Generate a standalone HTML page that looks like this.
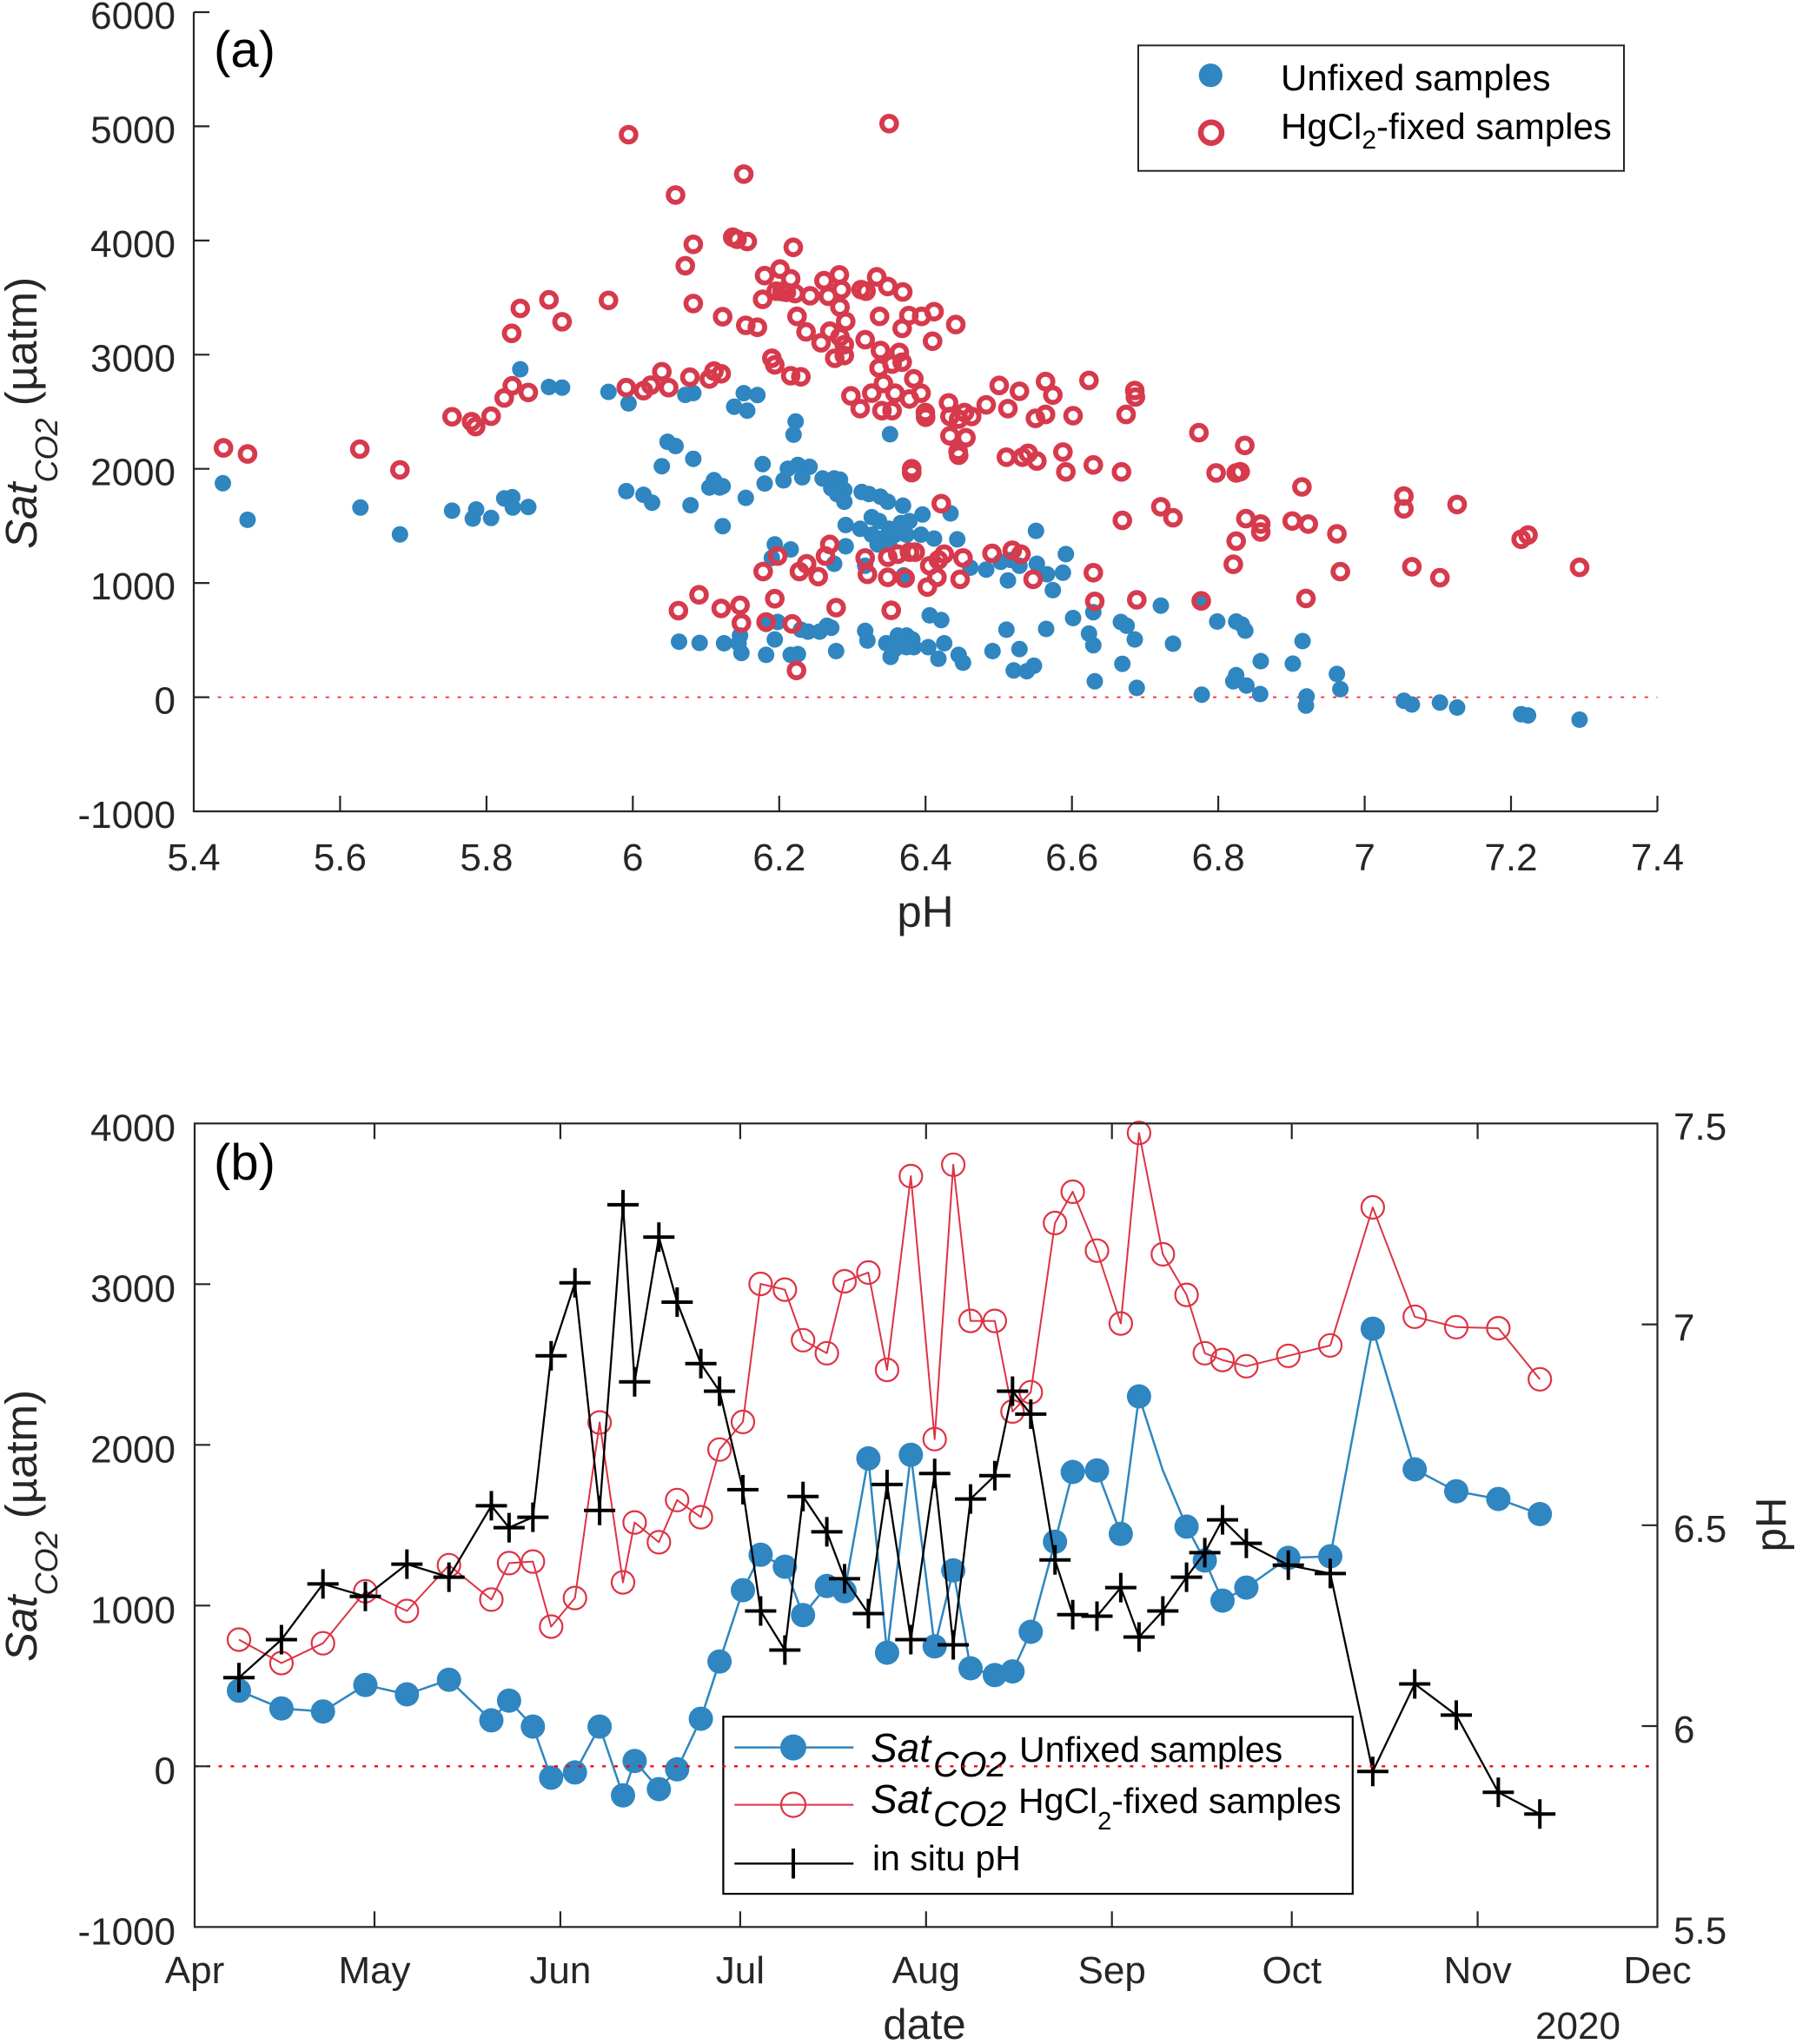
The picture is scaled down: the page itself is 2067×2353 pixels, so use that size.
<!DOCTYPE html>
<html>
<head>
<meta charset="utf-8">
<style>
html,body{margin:0;padding:0;background:#fff;}
svg{display:block;}
text{font-family:"Liberation Sans",Arial,sans-serif;}
</style>
</head>
<body>
<svg xmlns="http://www.w3.org/2000/svg" width="2067" height="2353" viewBox="0 0 2067 2353">
<rect x="0" y="0" width="2067" height="2353" fill="#fff"/>

<!-- ================= PANEL (a) ================= -->
<line x1="223" y1="802.6" x2="1907.5" y2="802.6" stroke="#ff2020" stroke-width="1.8" stroke-dasharray="4 9.8"/>

<g fill="#2f86c0">
<circle cx="256.5" cy="556.3" r="9.5"/><circle cx="284.9" cy="598.4" r="9.5"/><circle cx="414.8" cy="584.3" r="9.5"/>
<circle cx="460.3" cy="615.2" r="9.5"/><circle cx="520.3" cy="587.9" r="9.5"/><circle cx="544.1" cy="597" r="9.5"/>
<circle cx="548" cy="586.5" r="9.5"/><circle cx="565.2" cy="596.3" r="9.5"/><circle cx="580.3" cy="573.8" r="9.5"/>
<circle cx="589.6" cy="572.4" r="9.5"/><circle cx="590.2" cy="584.3" r="9.5"/><circle cx="598.8" cy="425.1" r="9.5"/>
<circle cx="608" cy="583.6" r="9.5"/><circle cx="631.8" cy="445.5" r="9.5"/><circle cx="646.9" cy="446.2" r="9.5"/>
<circle cx="700.3" cy="451.1" r="9.5"/><circle cx="723.4" cy="464.4" r="9.5"/><circle cx="720.8" cy="565.4" r="9.5"/>
<circle cx="740.6" cy="569.6" r="9.5"/><circle cx="750.5" cy="578.7" r="9.5"/><circle cx="761.7" cy="536.7" r="9.5"/>
<circle cx="768.3" cy="508.6" r="9.5"/><circle cx="777.5" cy="513.5" r="9.5"/><circle cx="788.7" cy="454.6" r="9.5"/>
<circle cx="797.9" cy="452.5" r="9.5"/><circle cx="797.9" cy="528.2" r="9.5"/><circle cx="794.7" cy="581.6" r="9.5"/>
<circle cx="781.5" cy="738.7" r="9.5"/><circle cx="805.2" cy="740.1" r="9.5"/><circle cx="816.4" cy="561.2" r="9.5"/>
<circle cx="821.7" cy="552.8" r="9.5"/><circle cx="828.3" cy="561.2" r="9.5"/>
<circle cx="856" cy="452.6" r="9.5"/><circle cx="871.7" cy="454.8" r="9.5"/><circle cx="845" cy="468.2" r="9.5"/>
<circle cx="860" cy="472.7" r="9.5"/><circle cx="915.7" cy="485.2" r="9.5"/><circle cx="913.3" cy="500.4" r="9.5"/>
<circle cx="1024.3" cy="499.9" r="9.5"/><circle cx="877.7" cy="534.3" r="9.5"/><circle cx="906.7" cy="539.6" r="9.5"/>
<circle cx="918.3" cy="535.2" r="9.5"/><circle cx="931.7" cy="537.4" r="9.5"/><circle cx="901.7" cy="553" r="9.5"/>
<circle cx="923.3" cy="549.5" r="9.5"/><circle cx="880" cy="556.6" r="9.5"/><circle cx="831.7" cy="559.7" r="9.5"/>
<circle cx="946.7" cy="550.8" r="9.5"/><circle cx="960" cy="550.8" r="9.5"/><circle cx="966.7" cy="552.1" r="9.5"/>
<circle cx="956.7" cy="562" r="9.5"/><circle cx="971.7" cy="564.2" r="9.5"/><circle cx="963.3" cy="568.7" r="9.5"/>
<circle cx="971.7" cy="577.6" r="9.5"/><circle cx="858.3" cy="573.1" r="9.5"/><circle cx="991.7" cy="566.4" r="9.5"/>
<circle cx="1000" cy="568.7" r="9.5"/><circle cx="1013.3" cy="571.8" r="9.5"/><circle cx="1021.7" cy="577.6" r="9.5"/>
<circle cx="1039.3" cy="582.1" r="9.5"/><circle cx="831.7" cy="605.7" r="9.5"/><circle cx="973.3" cy="604.4" r="9.5"/>
<circle cx="990" cy="608.8" r="9.5"/><circle cx="1003.3" cy="595.4" r="9.5"/><circle cx="1011.7" cy="599.9" r="9.5"/>
<circle cx="1003.3" cy="615.5" r="9.5"/><circle cx="1011.7" cy="620" r="9.5"/><circle cx="1023.3" cy="608.8" r="9.5"/>
<circle cx="1036.7" cy="602.1" r="9.5"/><circle cx="1046.7" cy="599.9" r="9.5"/><circle cx="1030" cy="615.5" r="9.5"/>
<circle cx="1043.3" cy="615.5" r="9.5"/><circle cx="1060" cy="615.5" r="9.5"/><circle cx="1010" cy="626.7" r="9.5"/>
<circle cx="1023.3" cy="626.7" r="9.5"/><circle cx="1061.7" cy="592.3" r="9.5"/><circle cx="1094" cy="591" r="9.5"/>
<circle cx="1075" cy="620" r="9.5"/><circle cx="1101.7" cy="620.9" r="9.5"/><circle cx="1192.3" cy="611.1" r="9.5"/>
<circle cx="891.7" cy="626.7" r="9.5"/><circle cx="910" cy="632.5" r="9.5"/><circle cx="888.3" cy="642.3" r="9.5"/>
<circle cx="973.3" cy="628.9" r="9.5"/><circle cx="960" cy="649" r="9.5"/><circle cx="995.7" cy="651.3" r="9.5"/>
<circle cx="1040" cy="662.4" r="9.5"/><circle cx="1116.7" cy="653.5" r="9.5"/><circle cx="1135" cy="655.7" r="9.5"/>
<circle cx="1151.7" cy="646.8" r="9.5"/><circle cx="1163.3" cy="644.6" r="9.5"/><circle cx="1160" cy="668.2" r="9.5"/>
<circle cx="1173.3" cy="651.3" r="9.5"/><circle cx="1193.3" cy="649" r="9.5"/><circle cx="1205" cy="661.1" r="9.5"/>
<circle cx="1211.7" cy="679.4" r="9.5"/><circle cx="1226.7" cy="637.9" r="9.5"/><circle cx="1223.3" cy="659.3" r="9.5"/>
<circle cx="1235" cy="711.5" r="9.5"/><circle cx="1070" cy="708.4" r="9.5"/><circle cx="1083.3" cy="713.8" r="9.5"/>
<circle cx="1158.3" cy="724.9" r="9.5"/><circle cx="1204" cy="724" r="9.5"/><circle cx="1258.3" cy="704.8" r="9.5"/>
<circle cx="1253.3" cy="729.4" r="9.5"/><circle cx="1258.3" cy="742.8" r="9.5"/><circle cx="1290" cy="716" r="9.5"/>
<circle cx="1296.7" cy="720.4" r="9.5"/><circle cx="1306" cy="736.1" r="9.5"/><circle cx="1336" cy="697.2" r="9.5"/>
<circle cx="1350" cy="741" r="9.5"/><circle cx="833.3" cy="740.5" r="9.5"/><circle cx="851.7" cy="731.6" r="9.5"/>
<circle cx="850" cy="740.5" r="9.5"/><circle cx="853.3" cy="751.7" r="9.5"/><circle cx="881.7" cy="718.2" r="9.5"/>
<circle cx="895" cy="716" r="9.5"/><circle cx="891.7" cy="736.1" r="9.5"/><circle cx="881.7" cy="753.9" r="9.5"/>
<circle cx="910" cy="753.9" r="9.5"/><circle cx="918.3" cy="753" r="9.5"/><circle cx="921.7" cy="724.9" r="9.5"/>
<circle cx="930" cy="727.1" r="9.5"/><circle cx="943.3" cy="727.1" r="9.5"/><circle cx="951.7" cy="720.4" r="9.5"/>
<circle cx="956.7" cy="722.7" r="9.5"/><circle cx="962.3" cy="749.5" r="9.5"/><circle cx="995.7" cy="726.3" r="9.5"/>
<circle cx="998.3" cy="737.4" r="9.5"/><circle cx="1020" cy="740.5" r="9.5"/><circle cx="1025" cy="756.2" r="9.5"/>
<circle cx="1033.3" cy="731.6" r="9.5"/><circle cx="1043.3" cy="731.6" r="9.5"/><circle cx="1050" cy="736.1" r="9.5"/>
<circle cx="1043.3" cy="745" r="9.5"/><circle cx="1051.7" cy="745" r="9.5"/><circle cx="1030" cy="747.2" r="9.5"/>
<circle cx="1068.3" cy="745" r="9.5"/><circle cx="1080" cy="758.4" r="9.5"/><circle cx="1086.7" cy="740.5" r="9.5"/>
<circle cx="1103.3" cy="753.9" r="9.5"/><circle cx="1108.3" cy="762.9" r="9.5"/><circle cx="1142.3" cy="749.5" r="9.5"/>
<circle cx="1173.3" cy="747.2" r="9.5"/><circle cx="1166.7" cy="771.8" r="9.5"/><circle cx="1181.7" cy="772.7" r="9.5"/>
<circle cx="1190" cy="766.4" r="9.5"/><circle cx="1260" cy="784.3" r="9.5"/><circle cx="1291.7" cy="764.2" r="9.5"/>
<circle cx="1308.3" cy="791.9" r="9.5"/>
<circle cx="1400.9" cy="715.5" r="9.5"/><circle cx="1422.7" cy="715.5" r="9.5"/><circle cx="1429.2" cy="719" r="9.5"/>
<circle cx="1433.2" cy="726" r="9.5"/><circle cx="1499.1" cy="738" r="9.5"/><circle cx="1451" cy="761.1" r="9.5"/>
<circle cx="1487.9" cy="764" r="9.5"/><circle cx="1422.7" cy="777.3" r="9.5"/><circle cx="1419.4" cy="784.3" r="9.5"/>
<circle cx="1434.5" cy="789.2" r="9.5"/><circle cx="1450.3" cy="799" r="9.5"/><circle cx="1383.1" cy="799.7" r="9.5"/>
<circle cx="1503.7" cy="801.8" r="9.5"/><circle cx="1503" cy="812.3" r="9.5"/><circle cx="1538.6" cy="775.9" r="9.5"/>
<circle cx="1542.6" cy="793.4" r="9.5"/><circle cx="1615.7" cy="806.7" r="9.5"/><circle cx="1624.9" cy="811" r="9.5"/>
<circle cx="1657.2" cy="808.8" r="9.5"/><circle cx="1677" cy="814.5" r="9.5"/><circle cx="1750.7" cy="822.2" r="9.5"/>
<circle cx="1758.6" cy="823.6" r="9.5"/><circle cx="1817.9" cy="828.5" r="9.5"/><circle cx="1382.5" cy="691.7" r="9.5"/>
</g>

<g fill="none" stroke="#d63a4c" stroke-width="5.8">
<circle cx="257.2" cy="515.6" r="8.4"/><circle cx="284.9" cy="522.6" r="8.4"/><circle cx="414.1" cy="517" r="8.4"/>
<circle cx="460.3" cy="540.9" r="8.4"/><circle cx="520.3" cy="479.8" r="8.4"/><circle cx="542.7" cy="485.4" r="8.4"/>
<circle cx="547.4" cy="491.1" r="8.4"/><circle cx="565.2" cy="479.1" r="8.4"/><circle cx="580.3" cy="458.1" r="8.4"/>
<circle cx="589.6" cy="444.1" r="8.4"/><circle cx="608" cy="451.8" r="8.4"/><circle cx="588.9" cy="383.7" r="8.4"/>
<circle cx="598.8" cy="355" r="8.4"/><circle cx="631.8" cy="345.1" r="8.4"/><circle cx="646.9" cy="370.4" r="8.4"/>
<circle cx="700.3" cy="345.8" r="8.4"/><circle cx="723.4" cy="155" r="8.4"/><circle cx="720.8" cy="446.2" r="8.4"/>
<circle cx="740.6" cy="449.7" r="8.4"/><circle cx="749.1" cy="443.4" r="8.4"/><circle cx="761.7" cy="427.9" r="8.4"/>
<circle cx="769.6" cy="446.2" r="8.4"/><circle cx="777.5" cy="224.5" r="8.4"/><circle cx="788.7" cy="305.9" r="8.4"/>
<circle cx="797.9" cy="281.3" r="8.4"/><circle cx="797.9" cy="349.4" r="8.4"/><circle cx="794" cy="434.2" r="8.4"/>
<circle cx="816.4" cy="436.3" r="8.4"/><circle cx="821.7" cy="427.2" r="8.4"/><circle cx="780.8" cy="702.9" r="8.4"/>
<circle cx="804.5" cy="684.7" r="8.4"/>
<circle cx="1023.3" cy="142.3" r="8.4"/><circle cx="856" cy="200.4" r="8.4"/><circle cx="843.3" cy="273.1" r="8.4"/>
<circle cx="848.3" cy="275.4" r="8.4"/><circle cx="860" cy="278" r="8.4"/><circle cx="913" cy="284.7" r="8.4"/>
<circle cx="880" cy="317.3" r="8.4"/><circle cx="897.7" cy="309.7" r="8.4"/><circle cx="910" cy="320.9" r="8.4"/>
<circle cx="900" cy="335.6" r="8.4"/><circle cx="905" cy="336.5" r="8.4"/><circle cx="915" cy="337.9" r="8.4"/>
<circle cx="893.3" cy="335.2" r="8.4"/><circle cx="877.7" cy="344.6" r="8.4"/><circle cx="932.3" cy="340.5" r="8.4"/>
<circle cx="948.3" cy="323.1" r="8.4"/><circle cx="966" cy="316.4" r="8.4"/><circle cx="968.3" cy="333.4" r="8.4"/>
<circle cx="953.3" cy="341" r="8.4"/><circle cx="991" cy="333.4" r="8.4"/><circle cx="996.7" cy="335.2" r="8.4"/>
<circle cx="1009" cy="318.7" r="8.4"/><circle cx="1021.7" cy="329.8" r="8.4"/><circle cx="1039" cy="336.1" r="8.4"/>
<circle cx="831.7" cy="364.6" r="8.4"/><circle cx="858.3" cy="374.5" r="8.4"/><circle cx="871.7" cy="376.7" r="8.4"/>
<circle cx="917.3" cy="364.2" r="8.4"/><circle cx="927.7" cy="382" r="8.4"/><circle cx="966.7" cy="353.5" r="8.4"/>
<circle cx="973.3" cy="370" r="8.4"/><circle cx="955" cy="381.2" r="8.4"/><circle cx="945" cy="394.6" r="8.4"/>
<circle cx="966.7" cy="387.9" r="8.4"/><circle cx="971.7" cy="396.8" r="8.4"/><circle cx="960.7" cy="412.4" r="8.4"/>
<circle cx="971.7" cy="409.3" r="8.4"/><circle cx="995.7" cy="391" r="8.4"/><circle cx="1012.3" cy="364.2" r="8.4"/>
<circle cx="1038.3" cy="378" r="8.4"/><circle cx="1046" cy="363.3" r="8.4"/><circle cx="1060.7" cy="364.2" r="8.4"/>
<circle cx="1075" cy="358.8" r="8.4"/><circle cx="1100" cy="373.6" r="8.4"/><circle cx="1073.3" cy="392.8" r="8.4"/>
<circle cx="888.3" cy="412.4" r="8.4"/><circle cx="891.7" cy="420" r="8.4"/><circle cx="910" cy="432.5" r="8.4"/>
<circle cx="921.7" cy="433.8" r="8.4"/><circle cx="830" cy="430.3" r="8.4"/><circle cx="1013.3" cy="403.5" r="8.4"/>
<circle cx="1035" cy="405.7" r="8.4"/><circle cx="1011.7" cy="423.6" r="8.4"/><circle cx="1026.7" cy="419.1" r="8.4"/>
<circle cx="1038.3" cy="416.9" r="8.4"/><circle cx="1051.7" cy="436.1" r="8.4"/><circle cx="1003.3" cy="452.6" r="8.4"/>
<circle cx="1016.7" cy="441.4" r="8.4"/><circle cx="1030" cy="452.6" r="8.4"/><circle cx="1046.7" cy="459.3" r="8.4"/>
<circle cx="1060" cy="452.6" r="8.4"/><circle cx="1015" cy="472.7" r="8.4"/><circle cx="1026.7" cy="472.7" r="8.4"/>
<circle cx="979.3" cy="455.7" r="8.4"/><circle cx="990" cy="470.4" r="8.4"/><circle cx="1065" cy="474.9" r="8.4"/>
<circle cx="1065.3" cy="480.3" r="8.4"/><circle cx="1091.7" cy="463.8" r="8.4"/><circle cx="1093.3" cy="479.4" r="8.4"/>
<circle cx="1110" cy="474.9" r="8.4"/><circle cx="1118.3" cy="479.4" r="8.4"/><circle cx="1103.3" cy="482.5" r="8.4"/>
<circle cx="1135" cy="466" r="8.4"/><circle cx="1150" cy="443.7" r="8.4"/><circle cx="1160" cy="470.4" r="8.4"/>
<circle cx="1173.3" cy="450.4" r="8.4"/><circle cx="1203.3" cy="439.2" r="8.4"/><circle cx="1211.7" cy="454.8" r="8.4"/>
<circle cx="1191.7" cy="481.6" r="8.4"/><circle cx="1203.3" cy="477.1" r="8.4"/><circle cx="1235" cy="478.5" r="8.4"/>
<circle cx="1253.3" cy="437.9" r="8.4"/><circle cx="1306" cy="449.5" r="8.4"/><circle cx="1306.7" cy="457" r="8.4"/>
<circle cx="1296" cy="477.1" r="8.4"/><circle cx="1093.3" cy="501.7" r="8.4"/><circle cx="1111.7" cy="503.9" r="8.4"/>
<circle cx="1103.3" cy="524" r="8.4"/><circle cx="1102.7" cy="519.6" r="8.4"/><circle cx="1158.3" cy="526.3" r="8.4"/>
<circle cx="1176.7" cy="526.3" r="8.4"/><circle cx="1183.3" cy="521.8" r="8.4"/><circle cx="1193.3" cy="530.7" r="8.4"/>
<circle cx="1223.3" cy="520.4" r="8.4"/><circle cx="1226.7" cy="543.2" r="8.4"/><circle cx="1258.3" cy="535.2" r="8.4"/>
<circle cx="1290.7" cy="543.2" r="8.4"/><circle cx="1049.3" cy="539.6" r="8.4"/><circle cx="1049.3" cy="544.1" r="8.4"/>
<circle cx="1083.3" cy="579.8" r="8.4"/><circle cx="1291.7" cy="599" r="8.4"/><circle cx="1336" cy="583.4" r="8.4"/>
<circle cx="1350" cy="596" r="8.4"/><circle cx="895" cy="640.1" r="8.4"/><circle cx="955" cy="626.7" r="8.4"/>
<circle cx="950" cy="640.1" r="8.4"/><circle cx="878.3" cy="657.9" r="8.4"/><circle cx="928.3" cy="649" r="8.4"/>
<circle cx="920" cy="657.9" r="8.4"/><circle cx="941.7" cy="663.8" r="8.4"/><circle cx="995.7" cy="642.3" r="8.4"/>
<circle cx="998.3" cy="661.1" r="8.4"/><circle cx="1021.7" cy="641.4" r="8.4"/><circle cx="1033.3" cy="637.9" r="8.4"/>
<circle cx="1046.7" cy="635.6" r="8.4"/><circle cx="1053.3" cy="635.6" r="8.4"/><circle cx="1021.7" cy="664.6" r="8.4"/>
<circle cx="1041.7" cy="665.5" r="8.4"/><circle cx="1070" cy="651.3" r="8.4"/><circle cx="1086.7" cy="637.9" r="8.4"/>
<circle cx="1080" cy="644.6" r="8.4"/><circle cx="1078.3" cy="664.6" r="8.4"/><circle cx="1067.3" cy="675.8" r="8.4"/>
<circle cx="1108.3" cy="642.3" r="8.4"/><circle cx="1105" cy="666.9" r="8.4"/><circle cx="1141.7" cy="637" r="8.4"/>
<circle cx="1165" cy="633.4" r="8.4"/><circle cx="1175" cy="637.9" r="8.4"/><circle cx="1189" cy="666.9" r="8.4"/>
<circle cx="1258.3" cy="659.3" r="8.4"/><circle cx="1260" cy="692.3" r="8.4"/><circle cx="1308.3" cy="690.5" r="8.4"/>
<circle cx="830" cy="700.4" r="8.4"/><circle cx="851.7" cy="696.8" r="8.4"/><circle cx="853.3" cy="717.3" r="8.4"/>
<circle cx="891.7" cy="689.2" r="8.4"/><circle cx="881.7" cy="716" r="8.4"/><circle cx="911.7" cy="718.2" r="8.4"/>
<circle cx="962.3" cy="699.5" r="8.4"/><circle cx="1025.7" cy="702.6" r="8.4"/><circle cx="916.7" cy="771.8" r="8.4"/>
<circle cx="1379.8" cy="498.1" r="8.4"/><circle cx="1432.6" cy="512.8" r="8.4"/><circle cx="1399.6" cy="544.4" r="8.4"/>
<circle cx="1422.7" cy="544.4" r="8.4"/><circle cx="1427.3" cy="543" r="8.4"/><circle cx="1498.4" cy="560.5" r="8.4"/>
<circle cx="1433.9" cy="597" r="8.4"/><circle cx="1451" cy="603.3" r="8.4"/><circle cx="1451" cy="612.4" r="8.4"/>
<circle cx="1487.2" cy="599.8" r="8.4"/><circle cx="1505.7" cy="603.3" r="8.4"/><circle cx="1422.7" cy="622.9" r="8.4"/>
<circle cx="1419.4" cy="649.6" r="8.4"/><circle cx="1538.6" cy="614.5" r="8.4"/><circle cx="1615.7" cy="571" r="8.4"/>
<circle cx="1615.7" cy="585.8" r="8.4"/><circle cx="1677" cy="580.8" r="8.4"/><circle cx="1750.7" cy="620.8" r="8.4"/>
<circle cx="1758.6" cy="615.9" r="8.4"/><circle cx="1817.9" cy="653.1" r="8.4"/><circle cx="1624.9" cy="652.4" r="8.4"/>
<circle cx="1657.2" cy="665" r="8.4"/><circle cx="1542.6" cy="658" r="8.4"/><circle cx="1503" cy="688.9" r="8.4"/>
<circle cx="1382.5" cy="691.7" r="8.4"/>
</g>

<g stroke="#262626" stroke-width="2.2" fill="none">
<line x1="223" y1="14" x2="223" y2="935"/>
<line x1="222" y1="934" x2="1907.5" y2="934"/>
<line x1="223" y1="14" x2="241" y2="14"/><line x1="223" y1="145.4" x2="241" y2="145.4"/>
<line x1="223" y1="276.9" x2="241" y2="276.9"/><line x1="223" y1="408.3" x2="241" y2="408.3"/>
<line x1="223" y1="539.7" x2="241" y2="539.7"/><line x1="223" y1="671.1" x2="241" y2="671.1"/>
<line x1="223" y1="802.6" x2="241" y2="802.6"/>
<line x1="391.4" y1="934" x2="391.4" y2="916"/><line x1="559.9" y1="934" x2="559.9" y2="916"/>
<line x1="728.3" y1="934" x2="728.3" y2="916"/><line x1="896.8" y1="934" x2="896.8" y2="916"/>
<line x1="1065.2" y1="934" x2="1065.2" y2="916"/><line x1="1233.7" y1="934" x2="1233.7" y2="916"/>
<line x1="1402.1" y1="934" x2="1402.1" y2="916"/><line x1="1570.6" y1="934" x2="1570.6" y2="916"/>
<line x1="1739" y1="934" x2="1739" y2="916"/><line x1="1907.5" y1="934" x2="1907.5" y2="916"/>
</g>
<g font-size="44" fill="#262626" text-anchor="end">
<text x="202" y="33">6000</text><text x="202" y="164.4">5000</text><text x="202" y="295.9">4000</text>
<text x="202" y="427.3">3000</text><text x="202" y="558.7">2000</text><text x="202" y="690.1">1000</text>
<text x="202" y="821.6">0</text><text x="202" y="953">-1000</text>
</g>
<g font-size="44" fill="#262626" text-anchor="middle">
<text x="223" y="1002">5.4</text><text x="391.4" y="1002">5.6</text><text x="559.9" y="1002">5.8</text>
<text x="728.3" y="1002">6</text><text x="896.8" y="1002">6.2</text><text x="1065.2" y="1002">6.4</text>
<text x="1233.7" y="1002">6.6</text><text x="1402.1" y="1002">6.8</text><text x="1570.6" y="1002">7</text>
<text x="1739" y="1002">7.2</text><text x="1907.5" y="1002">7.4</text>
</g>
<text x="1065" y="1067" font-size="51" fill="#262626" text-anchor="middle">pH</text>
<text transform="translate(42,632) rotate(-90)" fill="#262626" font-size="51"><tspan font-style="italic">Sat</tspan><tspan font-style="italic" font-size="36" dy="24">CO2</tspan><tspan dy="-24"> (µatm)</tspan></text>
<text x="246" y="77" font-size="58" fill="#000">(a)</text>

<rect x="1310" y="52.3" width="559" height="144.4" fill="#fff" stroke="#262626" stroke-width="2"/>
<circle cx="1393.3" cy="86.7" r="13.6" fill="#2f86c0"/>
<circle cx="1394" cy="152.7" r="12" fill="none" stroke="#d63a4c" stroke-width="6.5"/>
<text x="1474" y="104" font-size="42" fill="#000">Unfixed samples</text>
<text x="1474" y="160" font-size="42" fill="#000">HgCl<tspan font-size="30" dy="11">2</tspan><tspan dy="-11">-fixed samples</tspan></text>

<!-- ================= PANEL (b) ================= -->
<polyline fill="none" stroke="#2f86c0" stroke-width="2.5" stroke-linejoin="round" points="275,1946.3 323.9,1966.7 371.7,1970.2 420.5,1939.7 468.3,1950.5 516.7,1933.7 565.5,1980.4 585.9,1957.7 613.3,1987.6 634.3,2046.4 661.7,2040.4 690.1,1987.6 717,2066.8 730.4,2027.2 758.3,2059.6 779.3,2036.8 806.6,1978.6 828.1,1912.7 855,1830.6 875.4,1789.8 903.3,1803.6 924.2,1859.3 951.6,1825.8 972,1831.8 999.4,1678.9 1020.9,1902.5 1048.3,1674.7 1075.7,1895.3 1097.1,1807.8 1117,1920.5 1144.9,1928.3 1165.3,1924.1 1186.3,1878.5 1214.2,1774.8 1234.6,1694.5 1262.5,1692.7 1289.9,1765.8 1310.9,1607.5 1338.3,1692.7 1365.6,1757.4 1386.6,1796.4 1407,1842.6 1434.4,1827.6 1482.7,1793.4 1531,1791.6 1579.9,1529.6 1628.2,1691.5 1676,1716.7 1724.4,1725.6 1772.2,1743"/>
<g fill="#2f86c0">
<circle cx="275" cy="1946.3" r="14"/><circle cx="323.9" cy="1966.7" r="14"/><circle cx="371.7" cy="1970.2" r="14"/>
<circle cx="420.5" cy="1939.7" r="14"/><circle cx="468.3" cy="1950.5" r="14"/><circle cx="516.7" cy="1933.7" r="14"/>
<circle cx="565.5" cy="1980.4" r="14"/><circle cx="585.9" cy="1957.7" r="14"/><circle cx="613.3" cy="1987.6" r="14"/>
<circle cx="634.3" cy="2046.4" r="14"/><circle cx="661.7" cy="2040.4" r="14"/><circle cx="690.1" cy="1987.6" r="14"/>
<circle cx="717" cy="2066.8" r="14"/><circle cx="730.4" cy="2027.2" r="14"/><circle cx="758.3" cy="2059.6" r="14"/>
<circle cx="779.3" cy="2036.8" r="14"/><circle cx="806.6" cy="1978.6" r="14"/><circle cx="828.1" cy="1912.7" r="14"/>
<circle cx="855" cy="1830.6" r="14"/><circle cx="875.4" cy="1789.8" r="14"/><circle cx="903.3" cy="1803.6" r="14"/>
<circle cx="924.2" cy="1859.3" r="14"/><circle cx="951.6" cy="1825.8" r="14"/><circle cx="972" cy="1831.8" r="14"/>
<circle cx="999.4" cy="1678.9" r="14"/><circle cx="1020.9" cy="1902.5" r="14"/><circle cx="1048.3" cy="1674.7" r="14"/>
<circle cx="1075.7" cy="1895.3" r="14"/><circle cx="1097.1" cy="1807.8" r="14"/><circle cx="1117" cy="1920.5" r="14"/>
<circle cx="1144.9" cy="1928.3" r="14"/><circle cx="1165.3" cy="1924.1" r="14"/><circle cx="1186.3" cy="1878.5" r="14"/>
<circle cx="1214.2" cy="1774.8" r="14"/><circle cx="1234.6" cy="1694.5" r="14"/><circle cx="1262.5" cy="1692.7" r="14"/>
<circle cx="1289.9" cy="1765.8" r="14"/><circle cx="1310.9" cy="1607.5" r="14"/><circle cx="1365.6" cy="1757.4" r="14"/>
<circle cx="1386.6" cy="1796.4" r="14"/><circle cx="1407" cy="1842.6" r="14"/><circle cx="1434.4" cy="1827.6" r="14"/>
<circle cx="1482.7" cy="1793.4" r="14"/><circle cx="1531" cy="1791.6" r="14"/><circle cx="1579.9" cy="1529.6" r="14"/>
<circle cx="1628.2" cy="1691.5" r="14"/><circle cx="1676" cy="1716.7" r="14"/><circle cx="1724.4" cy="1725.6" r="14"/>
<circle cx="1772.2" cy="1743" r="14"/>
</g>

<polyline fill="none" stroke="#dd3344" stroke-width="2" stroke-linejoin="round" points="275,1887.5 323.9,1914.5 371.7,1891.7 420.5,1831.8 468.3,1854.5 516.7,1801.8 565.5,1841.4 585.9,1799.4 613.3,1797.6 634.3,1872.5 661.7,1839.6 690.1,1637.5 717,1821.6 730.4,1752.6 758.3,1775.4 779.3,1726.8 806.6,1746.6 828.1,1668.7 855,1636.9 875.4,1478 903.3,1484.6 924.2,1542.8 951.6,1557.8 972,1475 999.4,1464.9 1020.9,1577 1048.3,1353.9 1075.7,1656.7 1097.1,1340.8 1117,1520.6 1144.9,1520.6 1165.3,1624.9 1186.3,1602.7 1214.2,1407.9 1234.6,1371.9 1262.5,1439.7 1289.9,1523.6 1310.9,1304.2 1338.3,1443.9 1365.6,1490.6 1386.6,1557.8 1407,1565.6 1434.4,1572.8 1482.7,1560.8 1531,1548.8 1579.9,1389.9 1628.2,1515.8 1676,1527.8 1724.4,1529 1772.2,1587.8"/>
<g fill="none" stroke="#dd3344" stroke-width="2.2">
<circle cx="275" cy="1887.5" r="13"/><circle cx="323.9" cy="1914.5" r="13"/><circle cx="371.7" cy="1891.7" r="13"/>
<circle cx="420.5" cy="1831.8" r="13"/><circle cx="468.3" cy="1854.5" r="13"/><circle cx="516.7" cy="1801.8" r="13"/>
<circle cx="565.5" cy="1841.4" r="13"/><circle cx="585.9" cy="1799.4" r="13"/><circle cx="613.3" cy="1797.6" r="13"/>
<circle cx="634.3" cy="1872.5" r="13"/><circle cx="661.7" cy="1839.6" r="13"/><circle cx="690.1" cy="1637.5" r="13"/>
<circle cx="717" cy="1821.6" r="13"/><circle cx="730.4" cy="1752.6" r="13"/><circle cx="758.3" cy="1775.4" r="13"/>
<circle cx="779.3" cy="1726.8" r="13"/><circle cx="806.6" cy="1746.6" r="13"/><circle cx="828.1" cy="1668.7" r="13"/>
<circle cx="855" cy="1636.9" r="13"/><circle cx="875.4" cy="1478" r="13"/><circle cx="903.3" cy="1484.6" r="13"/>
<circle cx="924.2" cy="1542.8" r="13"/><circle cx="951.6" cy="1557.8" r="13"/><circle cx="972" cy="1475" r="13"/>
<circle cx="999.4" cy="1464.9" r="13"/><circle cx="1020.9" cy="1577" r="13"/><circle cx="1048.3" cy="1353.9" r="13"/>
<circle cx="1075.7" cy="1656.7" r="13"/><circle cx="1097.1" cy="1340.8" r="13"/><circle cx="1117" cy="1520.6" r="13"/>
<circle cx="1144.9" cy="1520.6" r="13"/><circle cx="1165.3" cy="1624.9" r="13"/><circle cx="1186.3" cy="1602.7" r="13"/>
<circle cx="1214.2" cy="1407.9" r="13"/><circle cx="1234.6" cy="1371.9" r="13"/><circle cx="1262.5" cy="1439.7" r="13"/>
<circle cx="1289.9" cy="1523.6" r="13"/><circle cx="1310.9" cy="1304.2" r="13"/><circle cx="1338.3" cy="1443.9" r="13"/>
<circle cx="1365.6" cy="1490.6" r="13"/><circle cx="1386.6" cy="1557.8" r="13"/><circle cx="1407" cy="1565.6" r="13"/>
<circle cx="1434.4" cy="1572.8" r="13"/><circle cx="1482.7" cy="1560.8" r="13"/><circle cx="1531" cy="1548.8" r="13"/>
<circle cx="1579.9" cy="1389.9" r="13"/><circle cx="1628.2" cy="1515.8" r="13"/><circle cx="1676" cy="1527.8" r="13"/>
<circle cx="1724.4" cy="1529" r="13"/><circle cx="1772.2" cy="1587.8" r="13"/>
</g>

<polyline fill="none" stroke="#000" stroke-width="2.3" stroke-linejoin="round" points="275,1931.3 323.9,1887.5 371.7,1823.4 420.5,1837.8 468.3,1800.6 516.7,1815.6 565.5,1733.4 585.9,1758.6 613.3,1746.6 634.3,1560.8 661.7,1476.8 690.1,1738.8 717,1386.9 730.4,1590.8 758.3,1424.1 779.3,1499 806.6,1569.8 828.1,1601.5 855,1714.9 875.4,1854.5 903.3,1899.5 924.2,1722.7 951.6,1763.4 972,1817.4 999.4,1857.5 1020.9,1708.9 1048.3,1887.5 1075.7,1696.3 1097.1,1893.5 1117,1725.6 1144.9,1698.7 1165.3,1601.5 1186.3,1627.9 1214.2,1795.8 1234.6,1858.7 1262.5,1860.5 1289.9,1827.6 1310.9,1884.5 1338.3,1854.5 1365.6,1815.6 1386.6,1787.4 1407,1749.6 1434.4,1776.6 1482.7,1801.8 1531,1811.4 1579.9,2039.2 1628.2,1938.5 1676,1974.4 1724.4,2063.2 1772.2,2088.3"/>
<path fill="none" stroke="#000" stroke-width="4" d="
M257,1931.3h36M275,1914.3v34
M305.9,1887.5h36M323.9,1870.5v34
M353.7,1823.4h36M371.7,1806.4v34
M402.5,1837.8h36M420.5,1820.8v34
M450.3,1800.6h36M468.3,1783.6v34
M498.7,1815.6h36M516.7,1798.6v34
M547.5,1733.4h36M565.5,1716.4v34
M567.9,1758.6h36M585.9,1741.6v34
M595.3,1746.6h36M613.3,1729.6v34
M616.3,1560.8h36M634.3,1543.8v34
M643.7,1476.8h36M661.7,1459.8v34
M672.1,1738.8h36M690.1,1721.8v34
M699,1386.9h36M717,1369.9v34
M712.4,1590.8h36M730.4,1573.8v34
M740.3,1424.1h36M758.3,1407.1v34
M761.3,1499h36M779.3,1482v34
M788.6,1569.8h36M806.6,1552.8v34
M810.1,1601.5h36M828.1,1584.5v34
M837,1714.9h36M855,1697.9v34
M857.4,1854.5h36M875.4,1837.5v34
M885.3,1899.5h36M903.3,1882.5v34
M906.2,1722.7h36M924.2,1705.7v34
M933.6,1763.4h36M951.6,1746.4v34
M954,1817.4h36M972,1800.4v34
M981.4,1857.5h36M999.4,1840.5v34
M1002.9,1708.9h36M1020.9,1691.9v34
M1030.3,1887.5h36M1048.3,1870.5v34
M1057.7,1696.3h36M1075.7,1679.3v34
M1079.1,1893.5h36M1097.1,1876.5v34
M1099,1725.6h36M1117,1708.6v34
M1126.9,1698.7h36M1144.9,1681.7v34
M1147.3,1601.5h36M1165.3,1584.5v34
M1168.3,1627.9h36M1186.3,1610.9v34
M1196.2,1795.8h36M1214.2,1778.8v34
M1216.6,1858.7h36M1234.6,1841.7v34
M1244.5,1860.5h36M1262.5,1843.5v34
M1271.9,1827.6h36M1289.9,1810.6v34
M1292.9,1884.5h36M1310.9,1867.5v34
M1320.3,1854.5h36M1338.3,1837.5v34
M1347.6,1815.6h36M1365.6,1798.6v34
M1368.6,1787.4h36M1386.6,1770.4v34
M1389,1749.6h36M1407,1732.6v34
M1416.4,1776.6h36M1434.4,1759.6v34
M1464.7,1801.8h36M1482.7,1784.8v34
M1513,1811.4h36M1531,1794.4v34
M1561.9,2039.2h36M1579.9,2022.2v34
M1610.2,1938.5h36M1628.2,1921.5v34
M1658,1974.4h36M1676,1957.4v34
M1706.4,2063.2h36M1724.4,2046.2v34
M1754.2,2088.3h36M1772.2,2071.3v34"/>

<rect x="832.4" y="1976.2" width="724.4" height="203.9" fill="#fff" stroke="#000" stroke-width="2.2"/>
<line x1="845.3" y1="2011.6" x2="982.3" y2="2011.6" stroke="#2f86c0" stroke-width="2.5"/>
<circle cx="913" cy="2011.6" r="15" fill="#2f86c0"/>
<line x1="845.3" y1="2077.6" x2="982.3" y2="2077.6" stroke="#dd3344" stroke-width="2"/>
<circle cx="913" cy="2077.6" r="14" fill="none" stroke="#dd3344" stroke-width="2.2"/>
<line x1="845.3" y1="2145.3" x2="982.3" y2="2145.3" stroke="#000" stroke-width="2.3"/>
<line x1="913" y1="2128" x2="913" y2="2162.5" stroke="#000" stroke-width="4"/>
<g fill="#000">
<text x="1002" y="2028" font-size="46" font-style="italic">Sat</text>
<text x="1074" y="2045" font-size="41" font-style="italic">CO2</text>
<text x="1173" y="2028" font-size="41">Unfixed samples</text>
<text x="1002" y="2087" font-size="46" font-style="italic">Sat</text>
<text x="1074" y="2102" font-size="41" font-style="italic">CO2</text>
<text x="1172" y="2087" font-size="41">HgCl<tspan font-size="29" dy="19">2</tspan><tspan dy="-19">-fixed samples</tspan></text>
<text x="1004" y="2153" font-size="41">in situ pH</text>
</g>

<line x1="224" y1="2033.3" x2="1907.5" y2="2033.3" stroke="#ff0000" stroke-width="2.4" stroke-dasharray="4 9.8"/>

<g stroke="#262626" stroke-width="2.2" fill="none">
<rect x="224" y="1293.3" width="1683.5" height="925"/>
<line x1="224" y1="1478.3" x2="242" y2="1478.3"/><line x1="224" y1="1663.3" x2="242" y2="1663.3"/>
<line x1="224" y1="1848.3" x2="242" y2="1848.3"/><line x1="224" y1="2033.3" x2="242" y2="2033.3"/>
<line x1="1907.5" y1="1524.6" x2="1889.5" y2="1524.6"/><line x1="1907.5" y1="1755.8" x2="1889.5" y2="1755.8"/>
<line x1="1907.5" y1="1987" x2="1889.5" y2="1987"/>
<path d="M431,1293.3v18M644.9,1293.3v18M851.9,1293.3v18M1065.8,1293.3v18M1279.7,1293.3v18M1486.7,1293.3v18M1700.6,1293.3v18
M431,2218.3v-18M644.9,2218.3v-18M851.9,2218.3v-18M1065.8,2218.3v-18M1279.7,2218.3v-18M1486.7,2218.3v-18M1700.6,2218.3v-18"/>
</g>
<g font-size="44" fill="#262626" text-anchor="end">
<text x="202" y="1313.3">4000</text><text x="202" y="1498.3">3000</text><text x="202" y="1683.3">2000</text>
<text x="202" y="1868.3">1000</text><text x="202" y="2053.3">0</text><text x="202" y="2238.3">-1000</text>
</g>
<g font-size="44" fill="#262626">
<text x="1926" y="1312">7.5</text><text x="1926" y="1543.6">7</text><text x="1926" y="1774.8">6.5</text>
<text x="1926" y="2006">6</text><text x="1926" y="2237.3">5.5</text>
</g>
<g font-size="44" fill="#262626" text-anchor="middle">
<text x="224" y="2283">Apr</text><text x="431" y="2283">May</text><text x="644.9" y="2283">Jun</text>
<text x="851.9" y="2283">Jul</text><text x="1065.8" y="2283">Aug</text><text x="1279.7" y="2283">Sep</text>
<text x="1486.7" y="2283">Oct</text><text x="1700.6" y="2283">Nov</text><text x="1907.5" y="2283">Dec</text>
</g>
<text x="1064" y="2347" font-size="49" fill="#262626" text-anchor="middle">date</text>
<text x="1816" y="2347" font-size="44" fill="#262626" text-anchor="middle">2020</text>
<text transform="translate(2055,1755) rotate(-90)" font-size="49" fill="#262626" text-anchor="middle">pH</text>
<text transform="translate(42,1913) rotate(-90)" fill="#262626" font-size="51"><tspan font-style="italic">Sat</tspan><tspan font-style="italic" font-size="36" dy="24">CO2</tspan><tspan dy="-24"> (µatm)</tspan></text>
<text x="246" y="1358" font-size="58" fill="#000">(b)</text>
</svg>
</body>
</html>
